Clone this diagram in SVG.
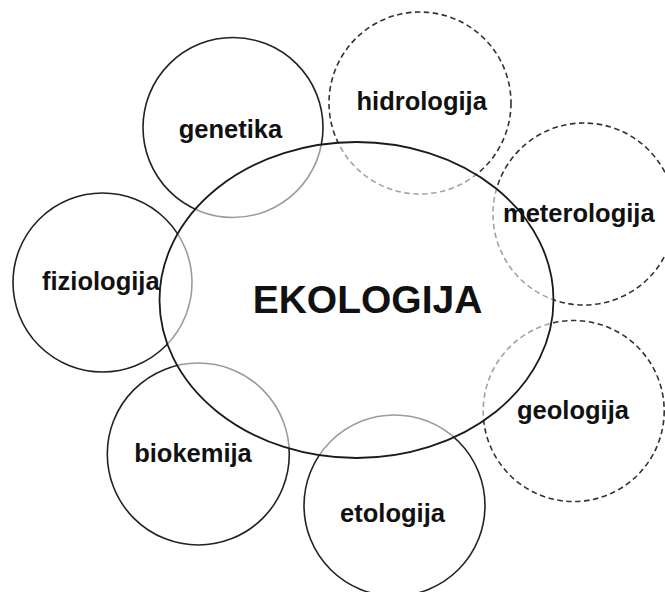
<svg xmlns="http://www.w3.org/2000/svg" width="665" height="592" viewBox="0 0 665 592">
<style>
.c{fill:none;stroke:#222;stroke-width:1.6}
.d{fill:none;stroke:#333;stroke-width:1.6;stroke-dasharray:5.5 3.5}
.t{font-family:"Liberation Sans",Arial,sans-serif;font-weight:bold;font-size:25.5px;fill:#111;text-anchor:middle}
.big{font-size:39px}
</style>
<rect width="665" height="592" fill="#fff"/>
<g id="genetika"><circle class="c" cx="233" cy="127.5" r="90"/></g>
<g id="hidrologija"><circle class="d" cx="420" cy="103" r="91"/></g>
<g id="meterologija"><circle class="d" cx="584" cy="214" r="91"/></g>
<g id="fiziologija"><circle class="c" cx="102.5" cy="282.5" r="89.5"/></g>
<g id="biokemija"><circle class="c" cx="198.3" cy="454" r="91"/></g>
<g id="etologija"><circle class="c" cx="394.5" cy="505.5" r="90.5"/></g>
<g id="geologija"><circle class="d" cx="573.7" cy="411" r="90.5"/></g>
<g id="ekologija"><ellipse cx="356.5" cy="300" rx="197" ry="158" fill="#fff" fill-opacity="0.55" stroke="#1a1a1a" stroke-width="1.8"/></g>
<g id="labels">
<text class="t" x="230.5" y="138">genetika</text>
<text class="t" x="421.7" y="110">hidrologija</text>
<text class="t" x="578.8" y="221.7">meterologija</text>
<text class="t" x="100.8" y="290">fiziologija</text>
<text class="t" x="193" y="461.7">biokemija</text>
<text class="t" x="392.5" y="521.7">etologija</text>
<text class="t" x="573" y="419">geologija</text>
<text class="t big" x="367.5" y="313">EKOLOGIJA</text>
</g>
<g id="connectors"/>
</svg>
